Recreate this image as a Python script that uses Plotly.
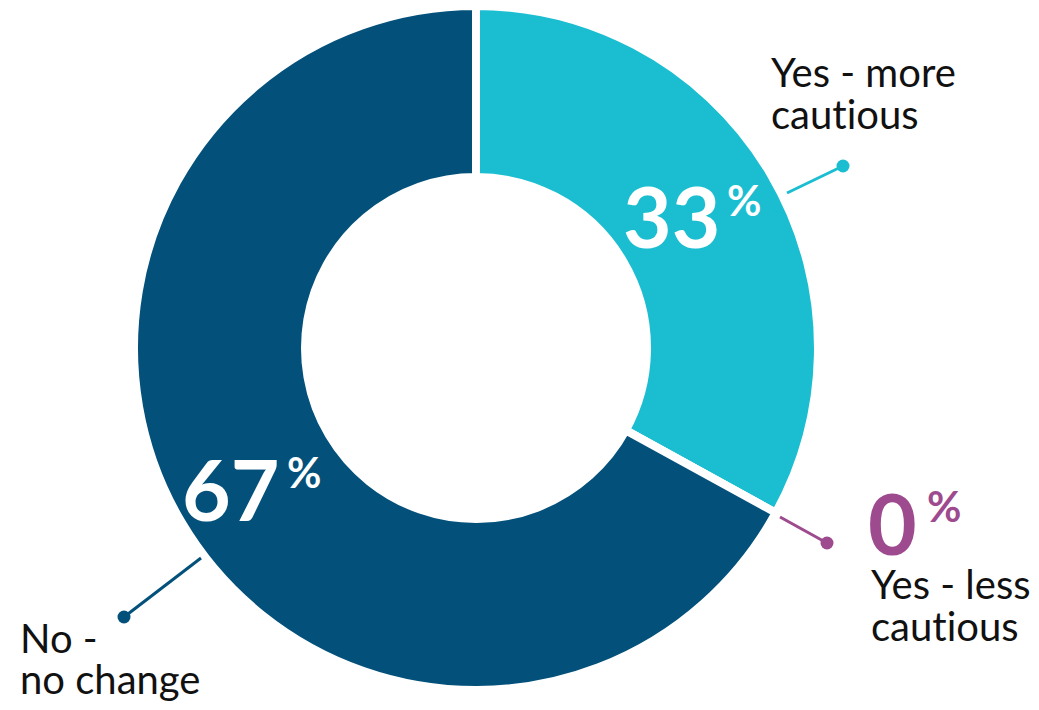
import plotly.graph_objects as go

labels = ["Yes - more cautious", "Yes - less cautious", "No - no change"]
values = [33, 0, 67]
colors = ["#1BBED1", "#9E4A8F", "#03517A"]
pct_text = ["33", "0", "67"]

W, H = 1039, 710
CX, CY, R = 476, 348, 342


def px(x):
    return x / W


def py(y):
    return 1 - y / H


fig = go.Figure(
    go.Pie(
        labels=labels,
        values=values,
        hole=0.5,
        sort=False,
        direction="clockwise",
        rotation=0,
        marker=dict(colors=colors, line=dict(color="white", width=8)),
        textinfo="none",
        hoverinfo="label+percent",
        showlegend=False,
        domain=dict(x=[px(CX - R), px(CX + R)], y=[py(CY + R), py(CY - R)]),
    )
)

ann = []
# big percentages
pct_pos = [((671, 215), (744, 200), "white"),
           ((892, 522), (944, 506), colors[1]),
           ((230, 488), (304, 472), "white")]
for t, ((nx, ny), (sx, sy), col) in zip(pct_text, pct_pos):
    ann.append(dict(x=px(nx), y=py(ny), text=f"<b>{t}</b>", showarrow=False,
                    xanchor="center", yanchor="middle",
                    font=dict(family="Lato", size=84, color=col)))
    ann.append(dict(x=px(sx), y=py(sy), text="<b>%</b>", showarrow=False,
                    xanchor="center", yanchor="middle",
                    font=dict(family="Lato", size=42, color=col)))

# category labels (two lines each)
ZWNJ = "\u200c"
label_lines = [
    (["Yes - more", "caut" + ZWNJ + "ious"], 769, [72, 114]),
    (["Yes - less", "caut" + ZWNJ + "ious"], 869, [584, 626]),
    (["No -", "no change"], 18, [638, 679]),
]
for lines, lx, ys in label_lines:
    for line, ly in zip(lines, ys):
        ann.append(dict(x=px(lx), y=py(ly), text=line, showarrow=False,
                        xanchor="left", yanchor="middle",
                        font=dict(family="Lato", size=40, color="#111111")))

# leader lines with dots
leaders = [((787, 193), (843, 166), colors[0]),
           ((780, 517), (827, 543), colors[1]),
           ((201, 558), (124, 617), colors[2])]
shapes = []
for (x0, y0), (x1, y1), col in leaders:
    shapes.append(dict(type="line", xref="paper", yref="paper",
                       x0=px(x0), y0=py(y0), x1=px(x1), y1=py(y1),
                       line=dict(color=col, width=3)))
    r = 6.5
    shapes.append(dict(type="circle", xref="paper", yref="paper",
                       x0=px(x1 - r), x1=px(x1 + r), y0=py(y1 + r), y1=py(y1 - r),
                       fillcolor=col, line=dict(color=col, width=0)))

fig.update_layout(
    width=W, height=H,
    margin=dict(l=0, r=0, t=0, b=0),
    paper_bgcolor="white", plot_bgcolor="white",
    annotations=ann, shapes=shapes,
)

fig.write_html("out.html")
